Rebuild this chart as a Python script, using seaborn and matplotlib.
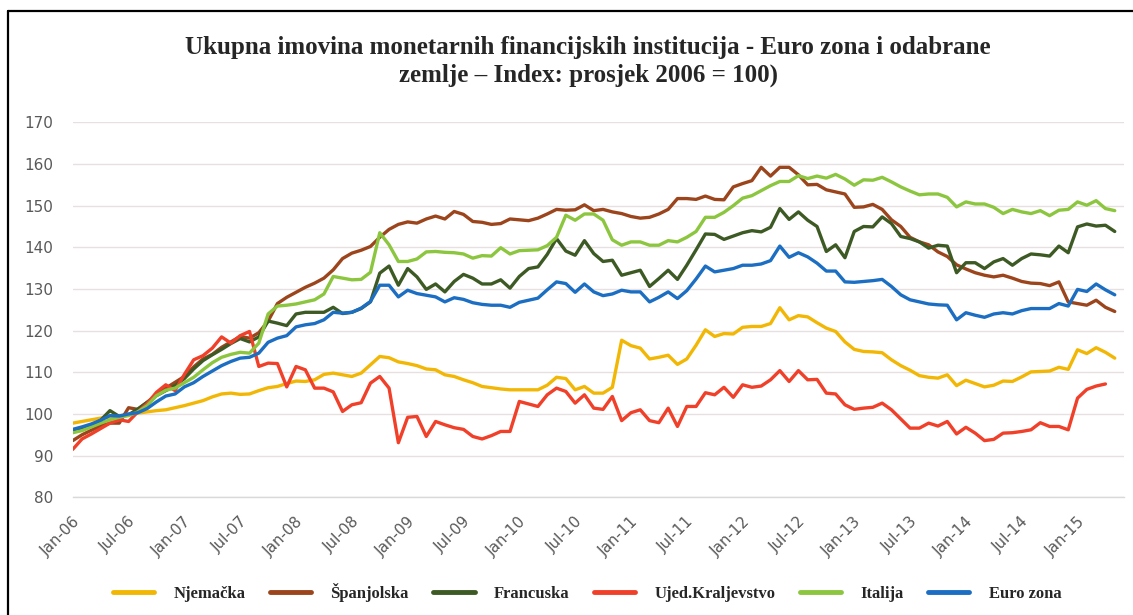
import pandas as pd
import matplotlib.pyplot as plt
import matplotlib.transforms as mtransforms
from matplotlib.lines import Line2D
import seaborn as sns

# Months Jan-06 .. May-15 (category axis)
months = pd.date_range("2006-01-01", "2015-05-01", freq="MS")
tick_labels = ["Jan-06", "Jul-06", "Jan-07", "Jul-07", "Jan-08", "Jul-08", "Jan-09",
               "Jul-09", "Jan-10", "Jul-10", "Jan-11", "Jul-11", "Jan-12", "Jul-12",
               "Jan-13", "Jul-13", "Jan-14", "Jul-14", "Jan-15"]

# Index values (prosjek 2006 = 100)
njemacka = [97.8, 98.2, 98.6, 99.0, 99.3, 99.6, 99.8, 100.2, 100.5, 100.8, 101.0, 101.5,
            102.0, 102.6, 103.2, 104.1, 104.8, 105.0, 104.7, 104.8, 105.6, 106.3, 106.6, 107.3,
            107.9, 107.8, 108.2, 109.5, 109.8, 109.4, 109.0, 109.8, 111.8, 113.8, 113.5, 112.5,
            112.1, 111.6, 110.8, 110.6, 109.4, 109.0, 108.2, 107.5, 106.6, 106.3, 106.0, 105.8,
            105.8, 105.8, 105.8, 106.9, 108.8, 108.5, 105.8, 106.6, 105.0, 105.0, 106.4, 117.7,
            116.4, 115.8, 113.2, 113.6, 114.1, 111.9, 113.2, 116.5, 120.2, 118.6, 119.3, 119.2,
            120.8, 121.0, 121.0, 121.7, 125.5, 122.6, 123.6, 123.3, 121.9, 120.6, 119.8, 117.3,
            115.5, 115.0, 114.9, 114.7, 113.0, 111.6, 110.5, 109.2, 108.8, 108.6, 109.4, 106.8,
            108.1, 107.3, 106.5, 106.9, 107.9, 107.8, 108.9, 110.1, 110.2, 110.3, 111.2, 110.7,
            115.4, 114.5, 115.9, 114.8, 113.4]

spanjolska = [93.6, 95.0, 96.1, 97.2, 97.8, 97.8, 101.5, 101.1, 102.8, 104.6, 106.2, 107.6,
              109.0, 111.3, 113.2, 114.3, 116.0, 117.3, 118.6, 118.2, 119.5, 122.3, 126.5, 128.0,
              129.2, 130.4, 131.4, 132.6, 134.6, 137.3, 138.6, 139.3, 140.2, 142.4, 144.3, 145.5,
              146.1, 145.8, 146.8, 147.5, 146.8, 148.6, 147.9, 146.2, 146.0, 145.5, 145.7, 146.8,
              146.6, 146.4, 147.0, 148.0, 149.1, 148.9, 149.0, 150.2, 148.8, 149.1, 148.5, 148.1,
              147.4, 147.0, 147.2, 148.0, 149.1, 151.7, 151.7, 151.5, 152.3, 151.5, 151.4, 154.5,
              155.3, 156.0, 159.2, 157.1, 159.2, 159.2, 157.4, 155.0, 155.1, 153.8, 153.3, 152.8,
              149.6, 149.7, 150.3, 149.1, 146.6, 145.0, 142.4, 141.3, 140.6, 138.9, 137.8, 135.8,
              134.8, 133.9, 133.3, 132.9, 133.3, 132.6, 131.8, 131.4, 131.3, 130.8, 131.7, 126.9,
              126.5, 126.1, 127.3, 125.6, 124.6]

francuska = [95.8, 96.4, 97.2, 98.5, 100.8, 99.4, 99.8, 101.2, 102.8, 104.4, 105.6, 106.8,
             108.5, 110.8, 112.8, 114.2, 115.5, 116.9, 118.1, 117.3, 118.5, 122.3, 121.8, 121.2,
             124.0, 124.4, 124.4, 124.4, 125.6, 124.1, 124.4, 125.3, 126.9, 133.8, 135.5, 130.9,
             134.9, 132.9, 129.9, 131.2, 129.3, 131.8, 133.5, 132.6, 131.2, 131.2, 132.2, 130.2,
             133.0, 134.9, 135.3, 138.3, 142.1, 139.1, 138.1, 141.6, 138.5, 136.6, 136.9, 133.3,
             133.9, 134.5, 130.6, 132.5, 134.5, 132.3, 135.7, 139.4, 143.2, 143.1, 141.9, 142.7,
             143.5, 144.0, 143.7, 144.8, 149.3, 146.7, 148.5, 146.5, 145.0, 139.0, 140.6, 137.5,
             143.8, 145.0, 144.9, 147.3, 145.7, 142.6, 142.1, 141.3, 139.8, 140.5, 140.3, 133.9,
             136.3, 136.3, 134.9, 136.5, 137.3, 135.7, 137.3, 138.4, 138.2, 137.9, 140.3, 138.7,
             144.9, 145.6, 145.1, 145.3, 143.8]

uk = [91.5, 94.0, 95.2, 96.5, 97.8, 98.6, 98.2, 100.5, 102.5, 105.2, 107.0, 105.6,
      109.5, 113.0, 114.0, 115.8, 118.5, 117.0, 118.8, 119.8, 111.4, 112.2, 112.1, 106.5,
      111.4, 110.6, 106.2, 106.2, 105.3, 100.6, 102.2, 102.7, 107.4, 109.0, 106.2, 93.1,
      99.2, 99.4, 94.6, 98.2, 97.4, 96.7, 96.3, 94.6, 94.0, 94.8, 95.8, 95.8,
      103.0, 102.4, 101.8, 104.6, 106.2, 105.4, 102.6, 104.6, 101.4, 101.1, 104.2, 98.4,
      100.3, 101.0, 98.4, 97.9, 101.4, 97.0, 101.8, 101.8, 105.1, 104.6, 106.4, 104.0,
      107.0, 106.4, 106.7, 108.2, 110.4, 107.8, 110.4, 108.2, 108.3, 105.0, 104.8, 102.2,
      101.1, 101.4, 101.6, 102.6, 101.0, 98.8, 96.6, 96.6, 97.8, 97.1, 98.2, 95.2,
      96.8, 95.4, 93.6, 93.9, 95.4, 95.5, 95.8, 96.2, 97.9, 97.0, 97.0, 96.2,
      103.8, 105.9, 106.7, 107.2]

italija = [95.5, 96.0, 96.9, 97.8, 98.6, 99.2, 99.6, 100.5, 102.0, 104.4, 105.7, 106.2,
           107.5, 108.8, 110.6, 112.3, 113.6, 114.3, 114.8, 114.6, 117.0, 124.0, 125.9, 126.1,
           126.4, 126.9, 127.4, 128.8, 133.0, 132.6, 132.2, 132.3, 134.0, 143.5, 140.6, 136.6,
           136.6, 137.2, 138.9, 139.0, 138.8, 138.7, 138.4, 137.4, 138.0, 137.9, 139.9, 138.4,
           139.2, 139.3, 139.4, 140.4, 142.4, 147.7, 146.5, 148.0, 148.0, 146.5, 141.8, 140.5,
           141.3, 141.3, 140.5, 140.5, 141.6, 141.3, 142.4, 143.8, 147.2, 147.2, 148.4, 150.0,
           151.8, 152.4, 153.6, 154.8, 155.8, 155.8, 157.2, 156.5, 157.1, 156.6, 157.5, 156.4,
           154.9, 156.2, 156.1, 156.8, 155.7, 154.5, 153.5, 152.6, 152.8, 152.8, 152.0, 149.7,
           150.9, 150.4, 150.4, 149.6, 148.1, 149.1, 148.5, 148.1, 148.8, 147.6, 148.9, 149.1,
           150.9, 150.1, 151.2, 149.3, 148.8]

euro_zona = [96.3, 96.9, 97.6, 98.5, 99.6, 99.5, 100.0, 100.3, 101.3, 102.9, 104.3, 104.8,
             106.5, 107.5, 109.0, 110.3, 111.6, 112.6, 113.4, 113.6, 114.6, 117.2, 118.2, 118.8,
             120.9, 121.4, 121.7, 122.6, 124.4, 124.2, 124.4, 125.4, 127.0, 130.9, 130.9, 128.1,
             129.7, 128.9, 128.5, 128.1, 126.9, 127.9, 127.5, 126.7, 126.3, 126.1, 126.1, 125.6,
             126.8, 127.3, 127.8, 129.8, 131.7, 131.3, 129.2, 131.2, 129.3, 128.4, 128.8, 129.7,
             129.3, 129.3, 126.9, 128.0, 129.3, 127.7, 129.6, 132.4, 135.5, 134.1, 134.5, 134.9,
             135.7, 135.7, 136.0, 136.8, 140.3, 137.6, 138.7, 137.7, 136.2, 134.3, 134.3, 131.7,
             131.6, 131.8, 132.0, 132.3, 130.6, 128.6, 127.4, 126.9, 126.4, 126.2, 126.1, 122.6,
             124.3, 123.7, 123.2, 124.0, 124.3, 124.0, 124.8, 125.3, 125.3, 125.3, 126.5, 125.9,
             129.9, 129.4, 131.2, 129.8, 128.6]

series = {
    "Njemačka": njemacka,
    "Španjolska": spanjolska,
    "Francuska": francuska,
    "Ujed.Kraljevstvo": uk,
    "Italija": italija,
    "Euro zona": euro_zona,
}
colors = {
    "Njemačka": "#f2b705",
    "Španjolska": "#9c451c",
    "Francuska": "#3d5a24",
    "Ujed.Kraljevstvo": "#f0402a",
    "Italija": "#8cc63f",
    "Euro zona": "#1b6ec2",
}

# long form table for seaborn
frames = []
for name, vals in series.items():
    frames.append(pd.DataFrame({"Mjesec": range(len(vals)), "Index": vals, "Zemlja": name}))
df = pd.concat(frames, ignore_index=True)

sns.set_style("white")
plt.rcParams["font.family"] = ["DejaVu Sans"]

fig = plt.figure(figsize=(11.33, 6.15), dpi=100)
ax = fig.add_axes([0.0642, 0.1914, 0.9279, 0.6097])

sns.lineplot(data=df, x="Mjesec", y="Index", hue="Zemlja", hue_order=list(series),
             palette=colors, linewidth=2.4, ax=ax, legend=True)

ax.set_xlim(0, 113)
ax.set_ylim(80, 170)
ax.set_yticks(range(80, 171, 10))
ax.set_xticks(range(0, len(months) - 4, 6))
ax.set_xticklabels(tick_labels, rotation=45, ha="right", va="top")
ax.set_xlabel("")
ax.set_ylabel("")

# light horizontal gridlines only
ax.yaxis.grid(True, color="#e6e0e0", linewidth=1)
ax.xaxis.grid(False)
ax.set_axisbelow(True)
for side in ["top", "right", "left"]:
    ax.spines[side].set_visible(False)
ax.spines["bottom"].set_color("#d9d9d9")
ax.spines["bottom"].set_linewidth(1)

ax.tick_params(axis="x", length=5, width=1, color="#d9d9d9", pad=7,
               labelsize=11, labelcolor="#595959")
ax.tick_params(axis="y", length=0, pad=14, labelsize=11, labelcolor="#595959")

# shift the rotated labels a little to the right, like the Excel original
offset = mtransforms.ScaledTranslation(0.10, 0, fig.dpi_scale_trans)
for lbl in ax.get_xticklabels():
    lbl.set_transform(lbl.get_transform() + offset)

# Title
fig.text(0.519, 0.900,
         "Ukupna imovina monetarnih financijskih institucija - Euro zona i odabrane\n"
         "zemlje – Index: prosjek 2006 = 100)",
         ha="center", va="center", fontsize=18, fontweight="bold",
         family="Liberation Serif", linespacing=1.3)

# Legend at the bottom
handles, labels = ax.get_legend_handles_labels()
ax.get_legend().remove()
leg = fig.legend(handles, labels, loc="center", bbox_to_anchor=(0.518, 1 - 592 / 615),
                 ncol=6, frameon=False, handlelength=2.5, handletextpad=1.15,
                 columnspacing=1.45,
                 prop={"family": "Liberation Serif", "weight": "bold", "size": 12})
for line in leg.get_lines():
    line.set_linewidth(3.5)

# frame lines of the original picture
fig.add_artist(Line2D([8 / 1133, 1], [1 - 11 / 615, 1 - 11 / 615], color="black", linewidth=1.6))
fig.add_artist(Line2D([8 / 1133, 8 / 1133], [0, 1 - 11 / 615], color="black", linewidth=1.6))

fig.savefig("out.png", dpi=100)
